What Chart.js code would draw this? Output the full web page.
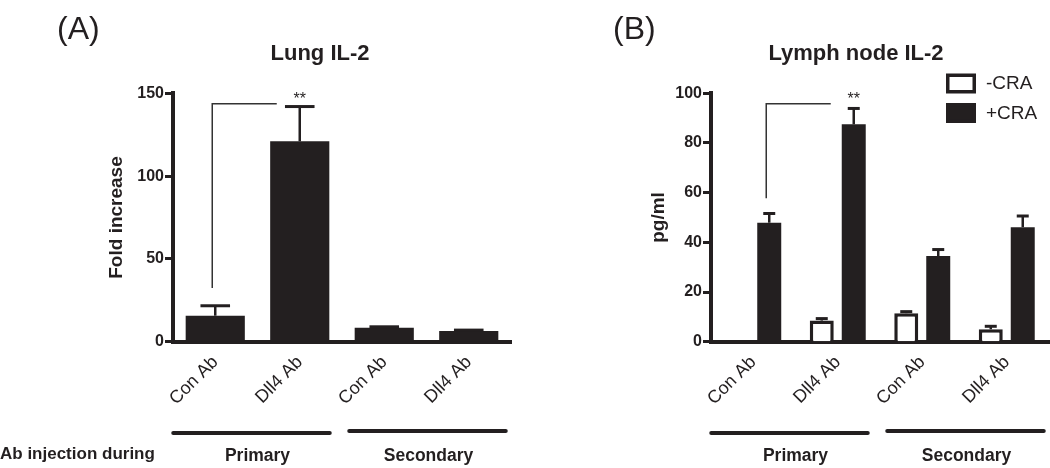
<!DOCTYPE html>
<html>
<head>
<meta charset="utf-8">
<script src="https://cdn.jsdelivr.net/npm/chart.js@4.4.0/dist/chart.umd.min.js"></script>
<style>
  body { margin: 0; background: #fff; }
  #wrap { position: relative; width: 1050px; height: 468px; overflow: hidden; }
  .panel { position: absolute; top: 0; width: 525px; height: 468px; }
</style>
</head>
<body>
<div id="wrap">
  <div class="panel" style="left:0"><canvas id="lungChart" width="525" height="468"></canvas></div>
  <div class="panel" style="left:525px"><canvas id="lymphChart" width="525" height="468"></canvas></div>
</div>
<script>
// values
const categories = ['Con Ab', 'Dll4 Ab', 'Con Ab', 'Dll4 Ab'];
const groups = ['Primary', 'Secondary'];

const lungTicks = [0, 50, 100, 150];
const lungValues = [15.7, 121, 8.4, 6.5];
const lungErrors = [6, 21, 0.6, 0.5];

const lymphTicks = [0, 20, 40, 60, 80, 100];
const lymphSeries = ['-CRA', '+CRA'];
const lymphMinusCRA = [0, 8.5, 11.5, 5.0];
const lymphMinusCRAErr = [0, 0.8, 0.6, 1.2];
const lymphPlusCRA = [47.9, 87.5, 34.5, 46.1];
const lymphPlusCRAErr = [3.7, 6.4, 2.6, 4.5];

const ink = '#231f20';
const family = "'Liberation Sans', Arial, Helvetica, sans-serif";
const plotTop = 93.3;
const plotBottom = 341.7;

const font = (size, weight) => `${weight || 'normal'} ${size}px ${family}`;

const yScale = (ticks, title, left, titleGap) => ({
  min: ticks[0],
  max: ticks[ticks.length - 1],
  afterBuildTicks: axis => { axis.ticks = ticks.map(value => ({ value })); },
  afterFit: axis => { axis.width = left; },
  border: { color: ink, width: 4 },
  grid: { drawOnChartArea: false, tickLength: 8, tickWidth: 3, tickColor: ink },
  ticks: { color: ink, padding: 1, font: { family, size: 16, weight: 'bold' } },
  title: {
    display: true, text: title, color: ink,
    padding: { top: titleGap, bottom: 0 },
    font: { family, size: 19, weight: 'bold' }
  }
});

const xScale = () => ({
  afterFit: axis => { axis.height = 468 - plotBottom; },
  border: { color: ink, width: 4 },
  grid: { display: false, drawTicks: false },
  ticks: { color: ink, padding: 10, minRotation: 45, maxRotation: 45, autoSkip: false, font: { family, size: 18 } }
});

// error bars, bracket, titles and the group bars under the axis
const extras = (opts) => ({
  id: 'extras',
  afterDatasetsDraw: (chart) => {
    const ctx = chart.ctx;
    const x = chart.scales.x;
    const y = chart.scales.y;
    ctx.save();
    ctx.strokeStyle = ink;
    ctx.fillStyle = ink;

    chart.data.datasets.forEach((ds, d) => {
      chart.getDatasetMeta(d).data.forEach((bar, i) => {
        const err = opts.errors[d][i];
        if (!err) return;
        const top = y.getPixelForValue(ds.data[i] + err);
        const half = bar.width * 0.25;
        ctx.lineWidth = 2.5;
        ctx.beginPath();
        ctx.moveTo(bar.x, bar.y);
        ctx.lineTo(bar.x, top);
        ctx.stroke();
        ctx.lineWidth = 3;
        ctx.beginPath();
        ctx.moveTo(bar.x - half, top);
        ctx.lineTo(bar.x + half, top);
        ctx.stroke();
      });
    });

    // significance bracket
    const bars = chart.getDatasetMeta(opts.bracketSet).data;
    const bx1 = bars[0].x - 3;
    const bx2 = bars[1].x - 23;
    ctx.strokeStyle = '#333';
    ctx.lineWidth = 1.5;
    ctx.beginPath();
    ctx.moveTo(bx1, y.getPixelForValue(opts.bracket[0]));
    ctx.lineTo(bx1, y.getPixelForValue(opts.bracket[1]));
    ctx.lineTo(bx2, y.getPixelForValue(opts.bracket[1]));
    ctx.stroke();
    ctx.font = font(16);
    ctx.textAlign = 'center';
    ctx.textBaseline = 'alphabetic';
    ctx.fillText('**', bars[1].x, y.getPixelForValue(opts.starValue) + 9);

    // groups below the axis
    ctx.strokeStyle = ink;
    ctx.lineWidth = 4;
    ctx.lineCap = 'round';
    const spans = [[0, 1, -42, 30, 433], [2, 3, -35, 37, 431]];
    spans.forEach(([a, b, l, r, ly], g) => {
      const xa = x.getPixelForValue(a);
      const xb = x.getPixelForValue(b);
      ctx.beginPath();
      ctx.moveTo(xa + l, ly);
      ctx.lineTo(xb + r, ly);
      ctx.stroke();
      ctx.font = font(17.5, 'bold');
      ctx.textAlign = 'center';
      ctx.fillText(groups[g], (xa + xb) / 2 + g * 2, 461);
    });

    ctx.textAlign = 'left';
    ctx.font = font(32);
    ctx.fillText(opts.letter, opts.letterX, 39);
    ctx.textAlign = 'center';
    ctx.font = font(22, 'bold');
    ctx.fillText(opts.title, opts.titleX, 60);

    if (opts.sideLabel) {
      ctx.textAlign = 'left';
      ctx.font = font(17, 'bold');
      ctx.fillText(opts.sideLabel, 0, 459);
    }

    if (opts.legend) {
      const lx = 421, ly = [73.5, 103];
      chart.data.datasets.forEach((ds, d) => {
        ctx.fillStyle = ds.backgroundColor;
        ctx.fillRect(lx, ly[d], 30, 20);
        ctx.strokeStyle = ink;
        ctx.lineWidth = 3.5;
        ctx.strokeRect(lx + 1.75, ly[d] + 1.75, 26.5, 16.5);
        ctx.fillStyle = ink;
        ctx.font = font(19);
        ctx.textAlign = 'left';
        ctx.textBaseline = 'middle';
        ctx.fillText(ds.label, lx + 40, ly[d] + 10.5);
        ctx.textBaseline = 'alphabetic';
      });
    }
    ctx.restore();
  }
});

const baseOptions = (left, right, ticks, title, titleGap) => ({
  responsive: false,
  animation: false,
  layout: { padding: { top: plotTop, left: 0, right: right, bottom: 0 } },
  plugins: { legend: { display: false }, tooltip: { enabled: false }, title: { display: false } },
  scales: { x: xScale(), y: yScale(ticks, title, left, titleGap) }
});

const drawLungChart = () => {
  new Chart(document.getElementById('lungChart'), {
    type: 'bar',
    data: {
      labels: categories,
      datasets: [{
        label: 'Lung IL-2',
        data: lungValues,
        backgroundColor: ink,
        borderWidth: 0,
        barPercentage: 0.7,
        categoryPercentage: 1
      }]
    },
    options: baseOptions(173, 14, lungTicks, 'Fold increase', 105.6),
    plugins: [extras({
      errors: [lungErrors],
      bracketSet: 0,
      bracket: [32.5, 143.7],
      starValue: 149.2,
      letter: '(A)', letterX: 57,
      title: 'Lung IL-2', titleX: 320,
      sideLabel: 'Ab injection during'
    })]
  });
};

const drawLymphChart = () => {
  new Chart(document.getElementById('lymphChart'), {
    type: 'bar',
    data: {
      labels: categories,
      datasets: [{
        label: lymphSeries[0],
        data: lymphMinusCRA,
        backgroundColor: '#ffffff',
        borderColor: ink,
        borderWidth: 3.5,
        barPercentage: 0.75,
        categoryPercentage: 0.757
      }, {
        label: lymphSeries[1],
        data: lymphPlusCRA,
        backgroundColor: ink,
        borderWidth: 0,
        barPercentage: 0.75,
        categoryPercentage: 0.757
      }]
    },
    options: baseOptions(186, 1, lymphTicks, 'pg/ml', 122.6),
    plugins: [extras({
      errors: [lymphMinusCRAErr, lymphPlusCRAErr],
      bracketSet: 1,
      bracket: [57.7, 95.8],
      starValue: 99.4,
      letter: '(B)', letterX: 88,
      title: 'Lymph node IL-2', titleX: 331,
      legend: true
    })]
  });
};

drawLungChart();
drawLymphChart();
</script>
</body>
</html>
